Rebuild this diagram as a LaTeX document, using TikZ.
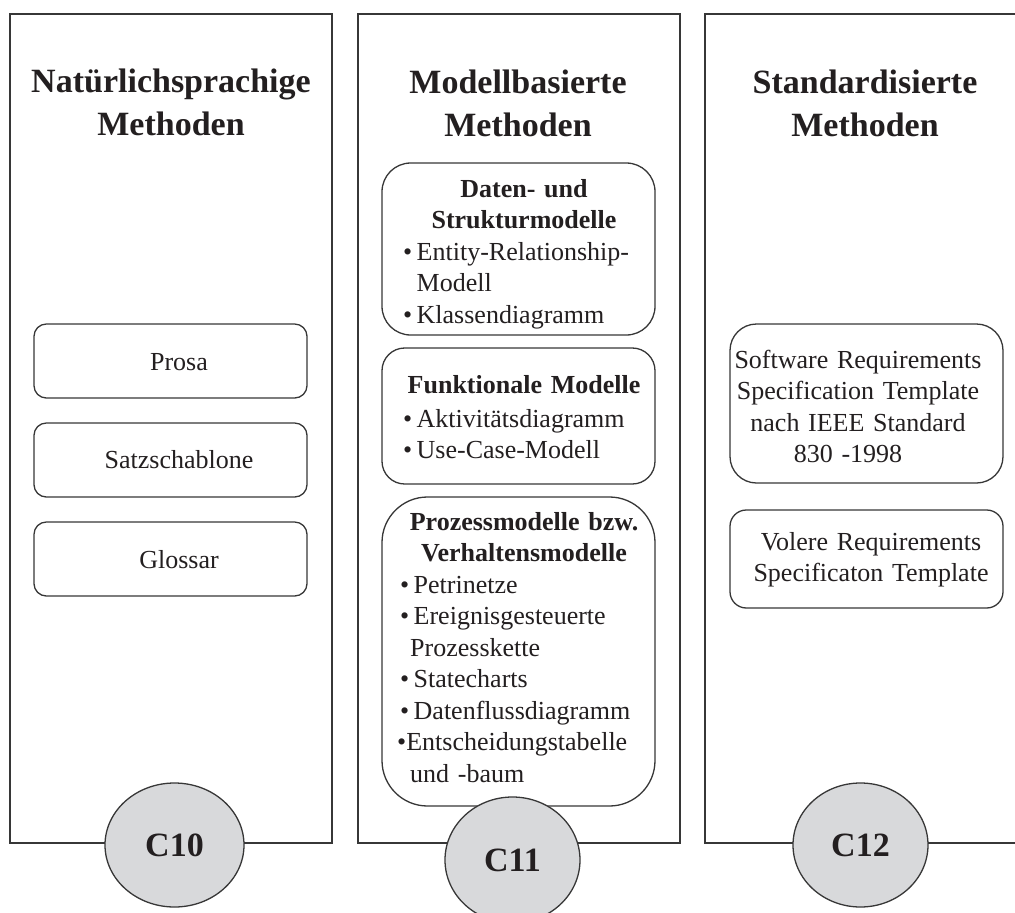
\documentclass[tikz,border=0pt]{standalone}
\usepackage{fontspec}
\setmainfont{Liberation Serif}
\usetikzlibrary{shapes.geometric}

\definecolor{ink}{RGB}{35,31,32}
\definecolor{frame}{RGB}{55,55,55}
\definecolor{discfill}{RGB}{216,217,219}

% bullet with a fixed hanging indent
\newcommand\listdot{\makebox[13.5pt][l]{•}}
\newcommand\listgap{\hspace*{13.5pt}}

\begin{document}
\begin{tikzpicture}[x=1pt,y=-1pt,
  column/.style={draw=frame, line width=1.8pt, minimum width=322pt,
    minimum height=829pt, inner sep=0pt},
  itembox/.style={draw=frame, line width=1.3pt, fill=white,
    minimum width=273pt, inner sep=0pt},
  title/.style={font=\fontsize{34}{43}\selectfont\bfseries, text=ink,
    align=center, text width=320pt, inner sep=0pt, anchor=base},
  body/.style={font=\fontsize{26}{31.5}\selectfont, text=ink, inner sep=0pt},
  plain/.style={body, align=center, text width=290pt, anchor=base},
  head/.style={body, font=\fontsize{26}{31.5}\selectfont\bfseries,
    align=center, text width=260pt, anchor=base},
  itemlist/.style={body, align=left, text width=250pt, anchor=base west},
  disc/.style={ellipse, draw=frame, line width=1.3pt, fill=discfill,
    inner sep=0pt, font=\fontsize{34}{40}\selectfont\bfseries, text=ink}
]
\clip (0,0) rectangle (1015,913);

% the three columns
\node[column] (colA) at (171,428.5) {};
\node[column] (colB) at (519,428.5) {};
\node[column] (colC) at (866,428.5) {};

% column titles
\node[title] (titleA) at (171,92) {Natürlichsprachige\\Methoden};
\node[title] (titleB) at (518,93) {Modellbasierte\\Methoden};
\node[title] (titleC) at (865,93) {Standardisierte\\Methoden};

% natural-language methods
\node[itembox, minimum height=74pt, rounded corners=12.3pt] (prosa) at (170.5,361) {};
\node[body, anchor=base] (prosaText) at (179,370) {Prosa};
\node[itembox, minimum height=74pt, rounded corners=12.3pt] (satz) at (170.5,460) {};
\node[body, anchor=base] (satzText) at (179,468) {Satzschablone};
\node[itembox, minimum height=74pt, rounded corners=12.3pt] (gloss) at (170.5,559) {};
\node[body, anchor=base] (glossText) at (179,568) {Glossar};

% model-based methods
\node[itembox, minimum height=172pt, rounded corners=28.7pt] (dataBox) at (518.5,249) {};
\node[head] (dataHead) at (524,197) {Daten- und\\Strukturmodelle};
\node[itemlist] (dataList) at (403,260)
  {\listdot Entity-Relationship-\\\listgap Modell\\\listdot Klassendiagramm};

\node[itembox, minimum height=136pt, rounded corners=22.7pt] (funcBox) at (518.5,416) {};
\node[head] (funcHead) at (524,393) {Funktionale Modelle};
\node[itemlist] (funcList) at (403,427)
  {\listdot Aktivitätsdiagramm\\\listdot Use-Case-Modell};

\node[itembox, minimum height=309pt, rounded corners=45.5pt] (procBox) at (518.5,651.5) {};
\node[head] (procHead) at (524,530) {Prozessmodelle bzw.\\Verhaltensmodelle};
\node[itemlist] (procList) at (400,593)
  {\listdot Petrinetze\\\listdot Ereignisgesteuerte\\\hspace*{10pt}Prozesskette\\\listdot Statecharts\\\listdot Datenflussdiagramm\\\hspace*{-3pt}•Entscheidungstabelle\\\hspace*{10pt}und -baum};

% standardised methods
\node[itembox, minimum height=159pt, rounded corners=26.5pt] (srsBox) at (866.5,403.5) {};
\node[plain] (srsText) at (858,368)
  {Software Requirements\\Specification Template\\nach IEEE Standard\\830 -1998\hspace*{20pt}\mbox{}};
\node[itembox, minimum height=98pt, rounded corners=16.3pt] (volBox) at (866.5,559) {};
\node[plain] (volText) at (871,550) {Volere Requirements\\Specificaton Template};

% category markers
\node[disc, minimum width=139pt, minimum height=124pt] (cA) at (174.5,845) {C10};
\node[disc, minimum width=135pt, minimum height=126pt] (cB) at (512.5,860) {C11};
\node[disc, minimum width=135pt, minimum height=124pt] (cC) at (860.5,845) {C12};
\end{tikzpicture}
\end{document}
